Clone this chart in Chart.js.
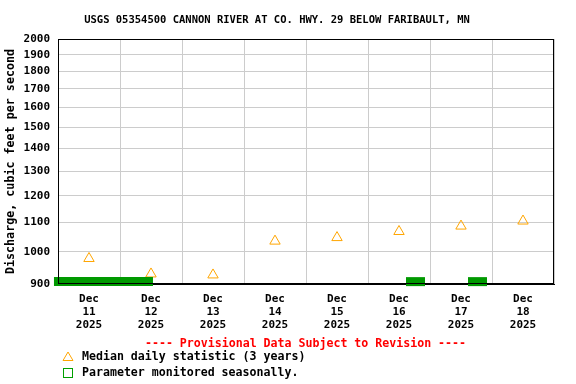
<!DOCTYPE html>
<html>
<head>
<meta charset="utf-8">
<script src="https://cdn.jsdelivr.net/npm/chart.js@4/dist/chart.umd.min.js"></script>
<style>
  html, body { margin: 0; padding: 0; background: #fff; }
  #wrap { position: relative; width: 576px; height: 384px; }
  .txt { position: absolute; font-family: "DejaVu Sans Mono", monospace; font-weight: bold; font-size: 11.6px; white-space: nowrap; color: #000; }
  #prov { color: #ff0000; left: 0; width: 611px; text-align: center; top: 336px; line-height: 15px; }
  .icon { position: absolute; }
</style>
</head>
<body>
<div id="wrap">
  <canvas id="chart" width="576" height="384"></canvas>
  <div class="txt" id="prov">---- Provisional Data Subject to Revision ----</div>
  <svg class="icon" style="left:62px;top:351px" width="12" height="11">
    <polygon points="6,1 11,9.5 1,9.5" fill="none" stroke="#ffa500" stroke-width="1"/>
  </svg>
  <div class="txt" style="left:82px;top:349px;line-height:15px">Median daily statistic (3 years)</div>
  <div class="icon" style="left:63px;top:368px;width:8px;height:8px;border:1px solid #00a000"></div>
  <div class="txt" style="left:82px;top:365px;line-height:15px">Parameter monitored seasonally.</div>
</div>
<script>
// x positions are days since Dec 11 00:00
const month = 'Dec';
const year = '2025';
const days = ['11', '12', '13', '14', '15', '16', '17', '18'];
const medianValues = [978, 930, 927, 1035, 1047, 1068, 1087, 1105];
const seasonalStart = [-0.065, 5.613, 6.613];
const seasonalEnd = [1.532, 5.919, 6.919];
const seasonalLevel = 907;
const yTicks = [900, 1000, 1100, 1200, 1300, 1400, 1500, 1600, 1700, 1800, 1900, 2000];

const mono = 'DejaVu Sans Mono';

const datasets = [];
seasonalStart.forEach((s, i) => {
  datasets.push({
    type: 'line',
    data: [{ x: s, y: seasonalLevel }, { x: seasonalEnd[i], y: seasonalLevel }],
    borderColor: '#009900',
    borderWidth: 9,
    borderCapStyle: 'butt',
    pointRadius: 0,
    clip: false
  });
});
datasets.push({
  type: 'scatter',
  data: medianValues.map((v, i) => ({ x: i + 0.5, y: v })),
  pointStyle: 'triangle',
  pointRadius: 6,
  pointBorderWidth: 1,
  borderColor: '#ffa500',
  backgroundColor: 'rgba(0,0,0,0)'
});

const frame = {
  id: 'frame',
  afterDatasetsDraw(chart) {
    const a = chart.chartArea;
    const c = chart.ctx;
    c.save();
    c.strokeStyle = '#000';
    c.lineWidth = 1;
    c.strokeRect(Math.round(a.left) + 0.5, Math.round(a.top) + 0.5,
      Math.round(a.right - a.left) - 1, Math.round(a.bottom - a.top) - 1);
    c.restore();
  }
};

new Chart(document.getElementById('chart'), {
  data: { datasets: datasets },
  options: {
    responsive: false,
    animation: false,
    layout: { padding: { left: 0, right: 22, top: 0, bottom: 50 } },
    plugins: {
      legend: { display: false },
      tooltip: { enabled: false },
      title: {
        display: true,
        text: 'USGS 05354500 CANNON RIVER AT CO. HWY. 29 BELOW FARIBAULT, MN',
        color: '#000',
        font: { family: mono, size: 10.5, weight: 'bold', lineHeight: 1.2 },
        padding: { top: 14, bottom: 12.4 }
      }
    },
    scales: {
      x: {
        type: 'linear',
        min: 0,
        max: 8,
        afterBuildTicks: s => {
          s.ticks = [];
          for (let i = 0; i <= days.length * 2; i++) s.ticks.push({ value: i / 2 });
        },
        afterFit: s => { s.height = 50; },
        grid: {
          color: ctx => (ctx.tick && ctx.tick.value % 1 === 0) ? '#cccccc' : 'rgba(0,0,0,0)',
          drawTicks: false
        },
        border: { color: '#000' },
        ticks: {
          autoSkip: false,
          maxRotation: 0,
          padding: 9,
          color: '#000',
          font: { family: mono, size: 11, weight: 'bold', lineHeight: 1.18 },
          callback: v => (v % 1 === 0) ? '' : [month, days[Math.floor(v)], year]
        }
      },
      y: {
        type: 'logarithmic',
        min: 900,
        max: 2000,
        afterBuildTicks: s => { s.ticks = yTicks.map(v => ({ value: v })); },
        afterFit: s => { s.width = 58; },
        grid: { color: '#cccccc', drawTicks: false },
        border: { color: '#000' },
        ticks: {
          padding: 8,
          color: '#000',
          font: { family: mono, size: 11, weight: 'bold' },
          callback: v => String(v)
        },
        title: {
          display: true,
          text: 'Discharge, cubic feet per second',
          color: '#000',
          font: { family: mono, size: 11.7, weight: 'bold', lineHeight: 1.2 },
          padding: { top: 4, bottom: 0 }
        }
      }
    }
  },
  plugins: [frame]
});
</script>
</body>
</html>
